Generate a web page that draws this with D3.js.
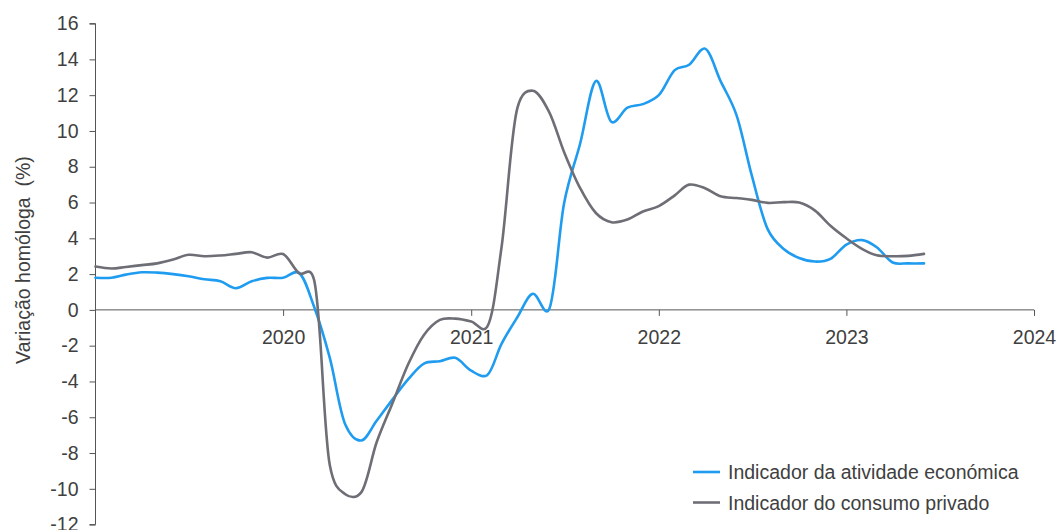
<!DOCTYPE html>
<html>
<head>
<meta charset="utf-8">
<script src="https://cdn.jsdelivr.net/npm/d3@7"></script>
<style>
  html, body { margin: 0; padding: 0; background: #ffffff; }
  svg { display: block; font-family: "Liberation Sans", Arial, sans-serif; }
</style>
</head>
<body>
<svg id="chart" width="1058" height="530"></svg>
<script>
// Monthly observations, January 2019 to June 2023
const months = d3.timeMonth.range(new Date(2019, 0, 1), new Date(2023, 6, 1));

// Year-on-year change (%) – economic activity indicator
const atividade = [
  1.8, 1.8, 1.97, 2.1, 2.08, 2.0, 1.88, 1.71, 1.6, 1.21, 1.6, 1.79,
  1.8, 2.07, 0.2, -2.7, -6.4, -7.3, -6.2, -5.0, -3.86, -3.0, -2.87, -2.68,
  -3.4, -3.65, -1.9, -0.4, 0.9, 0.0, 6.0, 9.3, 12.8, 10.5, 11.3, 11.5,
  12.0, 13.4, 13.7, 14.6, 12.8, 10.9, 7.5, 4.5, 3.4, 2.9, 2.7, 2.85,
  3.65, 3.9, 3.5, 2.65, 2.6, 2.6
];

// Year-on-year change (%) – private consumption indicator
const consumo = [
  2.42, 2.31, 2.4, 2.5, 2.6, 2.81, 3.08, 3.0, 3.04, 3.13, 3.22, 2.92,
  3.12, 2.05, 1.7, -8.7, -10.3, -10.2, -7.4, -5.2, -3.0, -1.4, -0.56, -0.49,
  -0.65, -0.95, 3.5, 11.3, 12.25, 11.1, 8.8, 6.8, 5.4, 4.9, 5.05, 5.5,
  5.8, 6.4, 7.0, 6.8, 6.35, 6.25, 6.15, 5.98, 6.02, 6.0, 5.55, 4.7,
  4.0, 3.4, 3.05, 3.0, 3.02, 3.13
];

const yTicks = [-12, -10, -8, -6, -4, -2, 0, 2, 4, 6, 8, 10, 12, 14, 16];
const xTickYears = [2020, 2021, 2022, 2023, 2024];
const seriesNames = ["Indicador da atividade económica", "Indicador do consumo privado"];
const seriesColors = ["#1f9cf0", "#6e6e76"];
const yTitle = "Variação homóloga  (%)";

const svg = d3.select("#chart");
const axisColor = "#555555";
const textColor = "#404040";
const fontSize = "19.5px";

const x = d3.scaleTime()
  .domain([new Date(2019, 0, 1), new Date(2024, 0, 1)])
  .range([95.5, 1034]);

const y = d3.scaleLinear()
  .domain([-12, 16])
  .range([524.6, 23.6]);

// Y axis on the left
const yAxis = svg.append("g")
  .attr("transform", `translate(${x.range()[0]},0)`)
  .call(d3.axisLeft(y).tickValues(yTicks).tickSize(6).tickPadding(11).tickFormat(d3.format("d")));
yAxis.select(".domain").attr("stroke", axisColor).attr("d", `M-6,${y(16)}H0V${y(-12)}H-6`);
yAxis.selectAll(".tick line").attr("stroke", axisColor);
yAxis.selectAll(".tick text").attr("fill", textColor).style("font-size", fontSize)
  .text(d => d < 0 ? "-" + Math.abs(d) : d);

// X axis crossing at zero
const xAxis = svg.append("g")
  .attr("transform", `translate(0,${y(0)})`)
  .call(d3.axisBottom(x)
    .tickValues(xTickYears.map(yr => new Date(yr, 0, 1)))
    .tickSize(6).tickPadding(14)
    .tickFormat(d3.timeFormat("%Y")));
xAxis.select(".domain").attr("stroke", axisColor).attr("d", `M${x.range()[0]},0H${x.range()[1]}`);
xAxis.selectAll(".tick line").attr("stroke", axisColor);
xAxis.selectAll(".tick text").attr("fill", textColor).style("font-size", fontSize);

// Y axis title
svg.append("text")
  .attr("transform", "translate(30,260) rotate(-90)")
  .attr("text-anchor", "middle")
  .attr("fill", textColor)
  .style("font-size", fontSize)
  .style("white-space", "pre")
  .attr("xml:space", "preserve")
  .text(yTitle);

// Smoothed series lines
const line = d3.line()
  .x((d, i) => x(months[i]))
  .y(d => y(d))
  .curve(d3.curveCatmullRom.alpha(0.2));

[atividade, consumo].forEach((values, k) => {
  svg.append("path")
    .datum(values)
    .attr("fill", "none")
    .attr("stroke", seriesColors[k])
    .attr("stroke-width", 2.6)
    .attr("stroke-linejoin", "round")
    .attr("stroke-linecap", "round")
    .attr("d", line);
});

// Legend
const legend = svg.append("g").attr("transform", "translate(693,472)");
seriesNames.forEach((name, k) => {
  const row = legend.append("g").attr("transform", `translate(0,${k * 30.5})`);
  row.append("line")
    .attr("x1", 0).attr("x2", 27).attr("y1", 0).attr("y2", 0)
    .attr("stroke", seriesColors[k]).attr("stroke-width", 2.6);
  row.append("text")
    .attr("x", 35).attr("y", 7.3)
    .attr("fill", textColor)
    .style("font-size", fontSize)
    .text(name);
});
</script>
</body>
</html>
